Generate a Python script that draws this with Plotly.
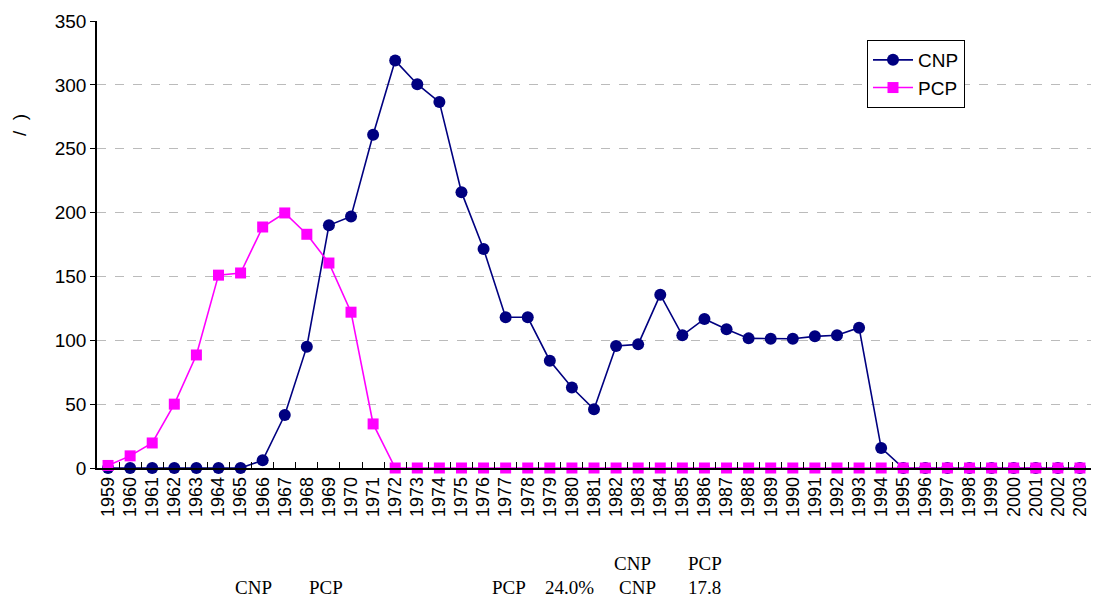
import plotly.graph_objects as go

years = [str(y) for y in range(1959, 2004)]

cnp = [0, 0, 0, 0, 0, 0, 0, 6, 41.5, 95, 190, 197, 261, 319, 300.5, 286.5,
       216, 171.5, 118, 118, 84, 63, 46, 95.5, 96.8, 135.7, 103.9, 116.7,
       108.6, 101.5, 101.2, 101.2, 103.1, 103.9, 109.9, 15.7,
       0, 0, 0, 0, 0, 0, 0, 0, 0]

pcp = [2, 9.5, 19.6, 50, 88.5, 151, 152.7, 188.7, 199.7, 183, 160.5, 122, 34.5] + [0] * 32

y_ticks = [0, 50, 100, 150, 200, 250, 300, 350]

W, H = 1093, 604
L, R, T, B = 97, 1091, 21, 468


def px(x):
    return (x - L) / (R - L)


def py(y):
    return (B - y) / (B - T)


fig = go.Figure()
fig.add_trace(go.Scatter(
    x=years, y=cnp, name="CNP", mode="lines+markers", cliponaxis=False,
    line=dict(color="#000080", width=1.6),
    marker=dict(symbol="circle", size=12, color="#000080"),
))
fig.add_trace(go.Scatter(
    x=years, y=pcp, name="PCP", mode="lines+markers", cliponaxis=False,
    line=dict(color="#FF00FF", width=1.6),
    marker=dict(symbol="square", size=11, color="#FF00FF"),
))

fig.update_layout(
    width=W, height=H,
    margin=dict(l=L, r=W - R, t=T, b=H - B),
    plot_bgcolor="white", paper_bgcolor="white",
    font=dict(family="Liberation Sans, Arial", size=18, color="black"),
    showlegend=True,
    legend=dict(
        x=px(867), y=py(40), xanchor="left", yanchor="top",
        bgcolor="white", bordercolor="black", borderwidth=1,
        font=dict(size=19), tracegroupgap=0, itemwidth=40,
    ),
    xaxis=dict(
        type="category", range=[-0.5, 44.5],
        showline=True, linecolor="black", linewidth=1.5, mirror=False,
        ticks="inside", ticklen=6, tickcolor="black", tickson="boundaries",
        tickangle=-90, showgrid=False, zeroline=False,
        tickfont=dict(size=18),
    ),
    yaxis=dict(
        range=[0, 350], tickvals=y_ticks,
        showline=True, linecolor="black", linewidth=1.5,
        ticks="outside", ticklen=5, tickcolor="black",
        showgrid=True, gridcolor="#BBBBBB", griddash="dash", gridwidth=1,
        zeroline=False, tickfont=dict(size=19),
    ),
)

# rotated y-axis title
fig.add_annotation(
    x=px(20), y=py(125), xref="paper", yref="paper",
    xanchor="center", yanchor="middle",
    text="/ &nbsp;)", textangle=-90, showarrow=False,
    font=dict(size=19, family="Liberation Sans, Arial"),
)

# caption lines beneath the chart
serif = dict(family="Liberation Serif, DejaVu Serif", size=19, color="black")
captions = [
    (612, 563, "CNP"),
    (686, 563, "PCP"),
    (233, 587, "CNP"),
    (307, 587, "PCP"),
    (490, 587, "PCP"),
    (543, 587, "24.0%"),
    (617, 587, "CNP"),
    (686, 587, "17.8"),
]
for cx, cy, txt in captions:
    fig.add_annotation(
        x=px(cx), y=py(cy), xref="paper", yref="paper",
        xanchor="left", yanchor="middle", text=txt, showarrow=False,
        font=serif,
    )

fig.write_html("out.html")
